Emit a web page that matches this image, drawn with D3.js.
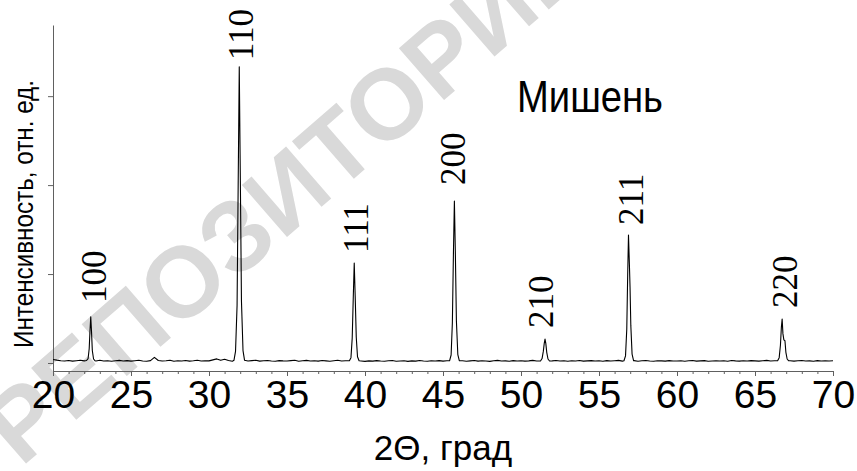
<!DOCTYPE html>
<html>
<head>
<meta charset="utf-8">
<script src="https://cdn.jsdelivr.net/npm/d3@7/dist/d3.min.js"></script>
<style>
  html, body { margin: 0; padding: 0; background: #fff; }
  svg { display: block; }
</style>
</head>
<body>
<svg id="chart" width="857" height="471"></svg>
<script>
// ---------------- DATA ----------------
const title = "Мишень";
const xLabel = "2Θ, град";
const yLabel = "Интенсивность, отн. ед.";
const watermark = "РЕПОЗИТОРИЙ";

const xDomain = [20, 70];
const yDomain = [-90, 3800];
const xMajorTicks = [20, 25, 30, 35, 40, 45, 50, 55, 60, 65, 70];
const xMinorTicks = [20,21,22,23,24,25,26,27,28,29,30,31,32,33,34,35,36,37,38,39,40,41,42,43,44,45,46,47,48,49,50,51,52,53,54,55,56,57,58,59,60,61,62,63,64,65,66,67,68,69,70];
const yTicks = [0, 1000, 2000, 3000];

// background scan: 2θ from 20.00 step 0.25
const scanStart = 20;
const scanStep = 0.25;
const backgroundCounts = [
  40,32,26,22,28,21,26,30,24,19,27,23,30,22,26,20,25,29,22,27,
  21,26,30,23,20,27,64,28,22,25,31,20,26,23,28,21,25,30,22,26,
  24,35,46,30,42,28,20,17,24,30,22,27,31,21,25,28,23,19,27,24,
  22,27,31,20,25,29,23,26,21,28,24,19,26,30,22,25,27,21,29,23,
  18,24,21,27,22,19,25,28,20,23,26,18,24,21,28,22,19,25,23,27,
  21,25,28,34,22,26,19,24,28,21,25,23,18,26,29,22,24,20,27,23,
  26,21,24,29,22,25,27,20,24,28,22,26,19,25,23,28,21,24,27,22,
  25,20,27,23,26,29,21,24,22,27,20,25,28,22,19,26,24,21,27,23,
  22,26,20,25,28,21,24,27,19,23,26,22,25,20,28,24,21,26,23,27,
  24,21,26,29,22,25,20,27,23,26,21,25,28,22,24,20,27,23,26,22,
  25
];

// reflections: [2θ, counts]
const peak100 = [[22.15,28],[22.25,50],[22.32,160],[22.37,360],[22.42,520],[22.47,350],[22.52,140],[22.60,45],[22.70,25]];
const peak110 = [[31.60,30],[31.70,130],[31.80,650],[31.87,2000],[31.94,3330],[32.01,2050],[32.08,700],[32.18,140],[32.28,30]];
const peak111 = [[39.00,25],[39.10,60],[39.18,280],[39.25,750],[39.31,1124],[39.37,760],[39.44,290],[39.52,70],[39.62,25]];
const peak200 = [[45.42,25],[45.52,90],[45.60,450],[45.67,1250],[45.73,1820],[45.79,1260],[45.86,470],[45.95,95],[46.05,25]];
const peak210 = [[51.25,22],[51.35,50],[51.43,130],[51.49,220],[51.54,270],[51.59,220],[51.65,120],[51.73,45],[51.83,22]];
const peak211 = [[56.60,25],[56.70,80],[56.78,380],[56.84,1000],[56.89,1438],[56.95,1100],[56.99,850],[57.04,420],[57.12,100],[57.22,25]];
const peak220 = [[66.45,25],[66.55,60],[66.63,200],[66.69,400],[66.74,494],[66.79,330],[66.85,260],[66.92,250],[66.98,120],[67.06,45],[67.16,25]];

// peak index labels: hkl, 2θ and counts of the label's lower end
const hklNames  = ["100", "110", "111", "200", "210", "211", "220"];
const hklTheta  = [22.60, 32.08, 39.42, 45.61, 51.25, 57.08, 66.92];
const hklCounts = [674, 3404, 1236, 2000, 393, 1551, 618];

// ---------------- CHART ----------------
const SANS = '"Liberation Sans", Arial';
const SERIF = '"Liberation Serif", "Times New Roman"';

const svg = d3.select("#chart");
const mLeft = 53, mRight = 833, mTop = 25, mBottom = 371;

const x = d3.scaleLinear().domain(xDomain).range([mLeft, mRight]);
const y = d3.scaleLinear().domain(yDomain).range([mBottom, mTop]);

// watermark (behind)
svg.append("text")
  .attr("transform", "translate(21,468) rotate(-41)")
  .style("font-family", SANS)
  .style("font-size", "100px")
  .style("font-weight", "bold")
  .style("fill", "#d9d9d9")
  .text(watermark);

// build series
const peaks = [peak100, peak110, peak111, peak200, peak210, peak211, peak220];
let series = backgroundCounts.map((c, i) => [scanStart + i * scanStep, c]);
series = series.filter(p => !peaks.some(pk => p[0] >= pk[0][0] && p[0] <= pk[pk.length - 1][0]));
peaks.forEach(pk => { series = series.concat(pk); });
series.sort((a, b) => a[0] - b[0]);

const axisColor = "#606060";

// x axis
const gx = svg.append("g").attr("transform", `translate(0,${mBottom})`);
gx.call(d3.axisBottom(x).tickValues(xMinorTicks).tickSize(3).tickFormat("").tickSizeOuter(0));
const gxMaj = svg.append("g").attr("transform", `translate(0,${mBottom})`);
gxMaj.call(d3.axisBottom(x).tickValues(xMajorTicks).tickSize(5).tickPadding(4).tickFormat(d3.format("d")).tickSizeOuter(0));
[gx, gxMaj].forEach(g => g.selectAll("path,line").attr("stroke", axisColor));
gxMaj.selectAll("text")
  .style("font-family", SANS)
  .style("font-size", "39px")
  .style("fill", "#000");

// y axis
const gy = svg.append("g").attr("transform", `translate(${mLeft},0)`);
gy.call(d3.axisLeft(y).tickValues(yTicks).tickSize(5).tickFormat("").tickSizeOuter(0));
gy.selectAll("path,line").attr("stroke", axisColor);

// data line
svg.append("path")
  .datum(series)
  .attr("fill", "none")
  .attr("stroke", "#000")
  .attr("stroke-width", 1.1)
  .attr("stroke-linejoin", "round")
  .attr("d", d3.line().x(d => x(d[0])).y(d => y(d[1])));

// hkl labels
svg.append("g").selectAll("text")
  .data(hklNames.map((n, i) => ({ n, t: hklTheta[i], c: hklCounts[i] })))
  .join("text")
  .attr("transform", d => `translate(${x(d.t) + 12},${y(d.c)}) rotate(-90)`)
  .style("font-family", SERIF)
  .style("font-size", "35px")
  .style("fill", "#000")
  .text(d => d.n);

// title
svg.append("text")
  .attr("x", 517).attr("y", 112)
  .attr("textLength", 146)
  .attr("lengthAdjust", "spacingAndGlyphs")
  .style("font-family", SANS)
  .style("font-size", "45px")
  .style("fill", "#000")
  .text(title);

// axis titles
svg.append("text")
  .attr("x", (mLeft + mRight) / 2).attr("y", 460)
  .attr("text-anchor", "middle")
  .style("font-family", SANS)
  .style("font-size", "35px")
  .style("fill", "#000")
  .text(xLabel);

svg.append("text")
  .attr("transform", "translate(33,214) rotate(-90)")
  .attr("text-anchor", "middle")
  .attr("textLength", 268)
  .attr("lengthAdjust", "spacingAndGlyphs")
  .style("font-family", SANS)
  .style("font-size", "27px")
  .style("fill", "#000")
  .text(yLabel);
</script>
</body>
</html>
